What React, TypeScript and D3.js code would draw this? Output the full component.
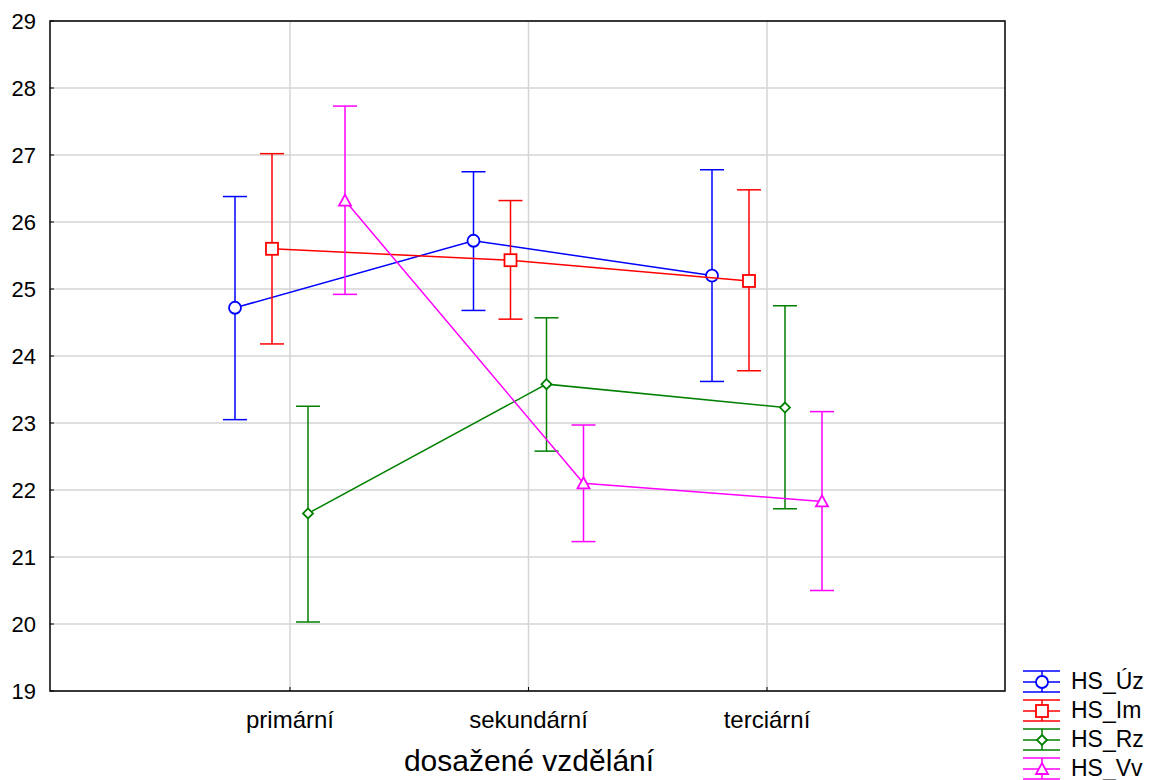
import React from "react";
import * as d3 from "d3";

const categories = ["primární", "sekundární", "terciární"];
const seriesNames = ["HS_Úz", "HS_Im", "HS_Rz", "HS_Vv"];
const colors = ["#0000FF", "#FF0000", "#008000", "#FF00FF"];
const markers = ["circle", "square", "diamond", "triangle"];
const means = [
  [24.72, 25.72, 25.2],
  [25.6, 25.43, 25.12],
  [21.65, 23.58, 23.23],
  [26.32, 22.1, 21.83],
];
const lows = [
  [23.05, 24.68, 23.62],
  [24.18, 24.55, 23.78],
  [20.03, 22.58, 21.72],
  [24.92, 21.23, 20.5],
];
const highs = [
  [26.38, 26.75, 26.78],
  [27.02, 26.32, 26.48],
  [23.25, 24.57, 24.75],
  [27.73, 22.97, 23.17],
];
const yTicks = [19, 20, 21, 22, 23, 24, 25, 26, 27, 28, 29];
const offsets = [-55, -18, 18, 55];

const L = 50, R = 1005, T = 21, B = 691;

function Marker({ type, x, y, color }: { type: string; x: number; y: number; color: string }) {
  const sw = 1.8;
  if (type === "circle") return <circle cx={x} cy={y} r={6} fill="white" stroke={color} strokeWidth={sw} />;
  if (type === "square") return <rect x={x - 6} y={y - 6} width={12} height={12} fill="white" stroke={color} strokeWidth={sw} />;
  if (type === "diamond") return <path d={`M${x},${y - 5}L${x + 5},${y}L${x},${y + 5}L${x - 5},${y}Z`} fill="white" stroke={color} strokeWidth={sw} />;
  return <path d={`M${x},${y - 6}L${x + 6},${y + 5}L${x - 6},${y + 5}Z`} fill="white" stroke={color} strokeWidth={sw} />;
}

export default function App() {
  const y = d3.scaleLinear().domain([19, 29]).range([B, T]);
  const x = d3.scalePoint<string>().domain(categories).range([290, 767]);
  const font = "'Liberation Sans', Arial, sans-serif";
  return (
    <svg width={1154} height={780} style={{ position: "absolute", left: 0, top: 0 }} fontFamily={font}>
      <rect width={1154} height={780} fill="white" />
      {yTicks.map((t) => (
        <g key={t}>
          <line x1={L} x2={R} y1={y(t)} y2={y(t)} stroke="#d4d4d4" strokeWidth={1.5} />
          <line x1={L} x2={L + 4} y1={y(t)} y2={y(t)} stroke="black" />
          <text x={L - 14} y={y(t)} dy="0.36em" textAnchor="end" fontSize={22} fill="black">{t}</text>
        </g>
      ))}
      {categories.map((c) => (
        <g key={c}>
          <line x1={x(c)!} x2={x(c)!} y1={T} y2={B} stroke="#d4d4d4" strokeWidth={1.5} />
          <line x1={x(c)!} x2={x(c)!} y1={B} y2={B - 4} stroke="black" />
          <text x={x(c)!} y={B + 37} textAnchor="middle" fontSize={24} fill="black">{c}</text>
        </g>
      ))}
      {seriesNames.map((s, i) => {
        const pts = categories.map((c, j) => [x(c)! + offsets[i], y(means[i][j])] as [number, number]);
        const line = d3.line()(pts)!;
        return (
          <g key={s}>
            {categories.map((c, j) => {
              const cx = x(c)! + offsets[i];
              return (
                <g key={c} stroke={colors[i]} strokeWidth={1.5}>
                  <line x1={cx} x2={cx} y1={y(lows[i][j])} y2={y(highs[i][j])} />
                  <line x1={cx - 12} x2={cx + 12} y1={y(lows[i][j])} y2={y(lows[i][j])} />
                  <line x1={cx - 12} x2={cx + 12} y1={y(highs[i][j])} y2={y(highs[i][j])} />
                </g>
              );
            })}
            <path d={line} fill="none" stroke={colors[i]} strokeWidth={1.5} />
            {pts.map((p, j) => (
              <Marker key={j} type={markers[i]} x={p[0]} y={p[1]} color={colors[i]} />
            ))}
          </g>
        );
      })}
      <rect x={L} y={T} width={R - L} height={B - T} fill="none" stroke="black" strokeWidth={1.5} />
      <text x={529} y={771} textAnchor="middle" fontSize={30} fill="black">dosažené vzdělání</text>
      {seriesNames.map((s, i) => {
        const ly = 682 + i * 29;
        const lx = 1042;
        return (
          <g key={s}>
            <g stroke={colors[i]} strokeWidth={1.5}>
              <line x1={1023} x2={1060} y1={ly - 11} y2={ly - 11} />
              <line x1={1023} x2={1060} y1={ly} y2={ly} />
              <line x1={1023} x2={1060} y1={ly + 10} y2={ly + 10} />
              <line x1={lx} x2={lx} y1={ly - 11} y2={ly + 10} />
            </g>
            <Marker type={markers[i]} x={lx} y={ly} color={colors[i]} />
            <text x={1071} y={ly} dy="0.32em" fontSize={23} fill="black">{s}</text>
          </g>
        );
      })}
    </svg>
  );
}
